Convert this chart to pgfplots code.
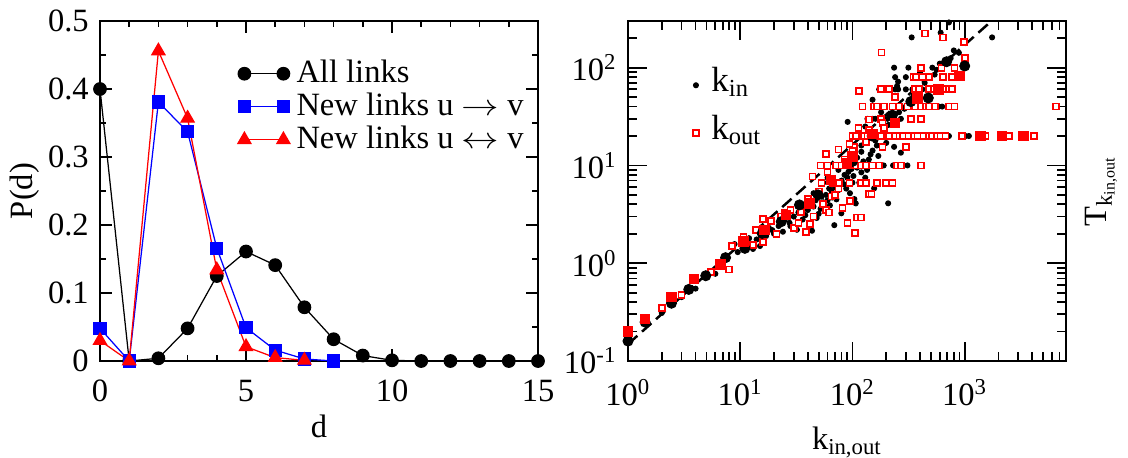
\documentclass[border=0pt]{standalone}
\usepackage{fontspec}
\setmainfont{Liberation Serif}
\usepackage{graphicx}
\usepackage{pgfplots}
\pgfplotsset{compat=1.18}

\definecolor{gblue}{RGB}{0,0,255}
\definecolor{gred}{RGB}{255,0,0}

\newcommand{\rarr}{\scalebox{1.25}[1]{$\rightarrow$}}
\newcommand{\lrarr}{\scalebox{1.25}[1]{$\leftrightarrow$}}

\pgfplotsset{
  grace/.style={
    scale only axis, width=175.2pt, height=136pt,
    axis line style={line width=0.7pt},
    tick style={line width=0.7pt, black},
    tick label style={font=\fontsize{13}{15}\selectfont},
    label style={font=\fontsize{13.5}{15}\selectfont},
    clip=false,
  },
}

\begin{document}
\fontsize{13}{15}\selectfont
\begin{tikzpicture}
\path[use as bounding box] (-40pt,-38.4pt) rectangle (411.2pt,144.4pt);

% left: distance distribution
\begin{axis}[grace,
  at={(0pt,0pt)}, anchor=south west,
  xmin=0, xmax=15, ymin=0, ymax=0.5,
  xtick={0,5,10,15}, xticklabels={0,5,10,15},
  ytick={0,0.1,0.2,0.3,0.4,0.5}, yticklabels={0,0.1,0.2,0.3,0.4,0.5},
  minor x tick num=4, minor y tick num=1,
  major tick length=4.8pt, minor tick length=2.4pt,
  xticklabel style={yshift=-3pt},
  xlabel={d}, ylabel={P(d)},
  every axis x label/.style={at={(axis description cs:0.5,-0.191)}, anchor=center},
  every axis y label/.style={at={(axis description cs:-0.171,0.5)}, anchor=center, rotate=90},
  legend style={at={(axis description cs:0.31,0.895)}, anchor=north west,
    draw=none, fill=none, inner sep=0pt, row sep=0pt,
    font=\fontsize{13}{15}\selectfont,
    nodes={inner sep=0.6pt, text height=9.5pt, text depth=2.5pt}},
  legend cell align=left,
  legend image code/.code={\path (-3pt,0pt) (20pt,0pt); \draw[#1] plot coordinates {(0pt,0pt) (15.6pt,0pt)};},
]
\addplot[black, line width=0.5pt, mark=*, mark size=2.5pt] coordinates {
 (0,0.40) (1,0) (2,0.004) (3,0.048) (4,0.125) (5,0.161) (6,0.141) (7,0.079)
 (8,0.032) (9,0.008) (10,0.001) (11,0) (12,0) (13,0) (14,0) (15,0)};
\addplot[gblue, line width=0.5pt, mark=square*, mark size=2.4pt] coordinates {
 (0,0.048) (1,0) (2,0.381) (3,0.337) (4,0.166) (5,0.049) (6,0.016) (7,0.003) (8,0)};
\addplot[gred, line width=0.5pt, mark=triangle*, mark size=3pt] coordinates {
 (0,0.030) (1,0) (2,0.456) (3,0.357) (4,0.134) (5,0.021) (6,0.005) (7,0.001)};
\legend{All links, New links u \rarr{} v, New links u \lrarr{} v}
\end{axis}

% right: T vs k
\begin{axis}[grace,
  at={(211.2pt,0pt)}, anchor=south west,
  xmode=log, ymode=log,
  xmin=1, xmax=8000, ymin=0.1, ymax=300,
  xtick={1,10,100,1000},
  xticklabels={10\textsuperscript{0},10\textsuperscript{1},10\textsuperscript{2},10\textsuperscript{3}},
  ytick={0.1,1,10,100},
  yticklabels={10\textsuperscript{-1},10\textsuperscript{0},10\textsuperscript{1},10\textsuperscript{2}},
  minor xtick={2,3,4,5,6,7,8,9,20,30,40,50,60,70,80,90,200,300,400,500,600,700,800,900,2000,3000,4000,5000,6000,7000,8000},
  minor ytick={0.2,0.3,0.4,0.5,0.6,0.7,0.8,0.9,2,3,4,5,6,7,8,9,20,30,40,50,60,70,80,90,200,300},
  major tick length=7.6pt, minor tick length=3.6pt,
  xticklabel style={yshift=-3pt},
  xlabel={k\textsubscript{in,out}}, ylabel={T\textsubscript{k\textsubscript{in,out}}},
  every axis x label/.style={at={(axis description cs:0.5,-0.16)}, anchor=north},
  every axis y label/.style={at={(axis description cs:1.08,0.5)}, anchor=center, rotate=90},
  legend style={at={(axis description cs:0.13,0.875)}, anchor=north west,
    draw=none, fill=none, inner sep=0pt, row sep=2pt,
    font=\fontsize{14}{15}\selectfont,
    nodes={inner sep=1pt, text height=10pt, text depth=5pt}},
  legend cell align=left,
  legend image code/.code={\path (-4pt,0pt) (5pt,0pt); \draw[#1] plot coordinates {(0pt,0pt)};},
]
\addplot[forget plot, black, line width=1pt, dash pattern=on 5pt off 2.5pt] coordinates {(1,0.149) (1735,300)};

% k_in, single nodes
\addplot[only marks, mark=*, mark size=1pt, black] coordinates {
 (1.5,0.24) (2,0.31) (3,0.45) (4,0.55) (6,0.78) (7,1.0) (8.9,1.57) (9.5,1.3) (11,1.42) (12,1.6)
 (13,1.4) (14,1.75) (17,1.9) (19.3,2.18) (22,2.4) (24,2.1) (27.5,2.59) (30,3.0) (32,2.2) (35,3.4)
 (38,3.1) (43.6,2.15) (45,3.8) (48,2.9) (52,3.6) (55,4.2) (60,4.4) (63,3.9) (65,5.5) (68.9,2.45)
 (72,4.5) (79.6,3.24) (85,6.4) (90,7.5) (95,5.2) (104,4.53) (107,4.09) (115,6.67) (120,8.5) (130,7.5)
 (156,5.83) (208,4.1) (100,6.67) (55,6.67) (70,6.67)
 (12,1.8) (15,1.5) (18,2.3) (20,2.0) (25,2.8) (28,2.4) (33,3.3) (36,2.8) (40,3.5) (42,4.0)
 (47,4.4) (50,3.2) (53,4.8) (58,5.0) (62,5.8) (66,4.7) (70,6.0) (75,5.6) (80,7.0) (88,5.8)
 (92,8.6) (98,9.2) (102,7.8) (110,9.5) (125,11) (135,9) (145,13) (165,16) (190,22) (210,26)
 (260,35) (290,38) (350,52) (380,55) (440,70) (540,85) (560,95) (600,110) (750,125) (800,150)
 (70,10) (100,10) (130,10) (160,10) (190,10) (230,10) (309,10) (280,10)
 (120,13.8) (151,14.2) (235,15.5) (270,13.5) (170,12.5) (110,12) (140,11.5)
 (115,20) (141,20) (173,20) (198,20) (235,20) (299,20) (342,20) (392,20) (480,20) (590,20) (724,20) (1018,20) (1090,20)
 (136,30) (151,30) (160,30) (180,30) (205,30) (227,30) (270,30)
 (180,40) (240,40) (270,40) (299,40) (342,40) (392,40) (480,40) (590,40) (630,40)
 (173,60) (240,60) (255,60) (299,60) (342,60) (420,60)
 (255,72) (299,80) (240,80)
 (235,100) (315,100) (515,100) (620,100)
 (151,47) (90.6,27.9) (200,17) (337,204) (611,228) (724,290) (1755,204) (888,142) (130,25) (180,35)
 (250,65) (400,90) (160,18) (95,12) (120,16) (75,9) (85,8) (60,7.5) (45,5.2) (40,4.6)};
\addlegendentry{k\textsubscript{in}}

% k_out, single nodes
\addplot[only marks, mark=square*, mark size=1.2pt, mark options={draw=gred, fill=white, line width=0.7pt}] coordinates {
 (2,0.35) (3,0.47) (5.5,0.82) (7.9,0.865) (8.5,1.5) (10.7,1.87) (12.9,1.53) (13.9,2.18) (15.9,2.81) (16,1.65)
 (18.9,2.72) (21,1.99) (23,3.0) (25,3.28) (28,3.5) (30,2.3) (33,2.56) (34.9,3.33) (38.6,2.07) (40,4.5)
 (42,2.54) (45,3.0) (50,5.4) (55,4.0) (58,3.5) (62,3.31) (65,4.8) (70,5.0) (75,5.8) (81.7,3.64)
 (90.5,2.56) (95,4.3) (105,2.05) (110,2.94) (119,2.94) (141,5.1) (148,5.1)
 (53,6.67) (67,6.67) (76,6.67) (94,6.67) (119,6.67) (132,6.67) (165,6.67) (198,6.67) (227,6.67)
 (52,10) (60,10) (71,10) (80,10) (87.5,10) (107,10) (119,10) (132,10) (151,10) (173,10) (251,10) (270,10) (406,10)
 (104,15.5) (132,17.5) (185,15.5) (299,15.5)
 (100,20) (107,20) (127,20) (136,20) (151,20) (165,20) (180,20) (202,20) (212,20) (240,20) (262,20) (280,20)
 (315,20) (355,20) (380,20) (430,20) (480,20) (515,20) (565,20) (610,20) (676,20) (950,20) (1532,20) (2468,20) (4117,20)
 (180,30) (330,30) (406,30) (140,29.5)
 (123,40) (156,40) (165,40) (190,40) (227,40) (260,40) (310,40) (360,40) (406,40) (450,40) (480,40) (540,40)
 (724,40) (810,40) (6546,40)
 (180,60) (202,60) (212,60) (360,60) (392,60) (480,60) (530,60) (590,60) (640,60) (724,60) (775,60)
 (350,80) (370,80) (420,80) (480,80) (640,80) (775,80)
 (406,100) (620,100) (810,100)
 (115,58) (240,50) (440,224) (640,204) (984,184) (181,143) (75,14.6) (94,16.6) (58,13.1) (44,7.7)
 (113,24.3) (185,27) (190,24) (1000,125) (140,23) (60,8.5) (85,11.5) (100,14)};
\addlegendentry{k\textsubscript{out}}

% binned averages
\addplot[forget plot, only marks, mark=*, mark size=2pt, black] coordinates {
 (1,0.16) (1.42,0.25) (2.44,0.39) (3.48,0.54) (4.93,0.745) (7.4,1.14) (11,1.42) (15.7,2.02)
 (23.2,2.66) (33.7,3.95) (49.3,5.0) (100,11) (150,20) (227,32.7) (331,45) (474,49) (690,115) (1000,104)};
\addplot[forget plot, only marks, mark=square*, mark size=1.9pt, gred] coordinates {
 (1,0.2) (1.42,0.27) (2.44,0.45) (3.86,0.69) (6.65,0.975) (10.7,1.66) (16.5,2.18) (25.6,3.11)
 (41.3,4.1) (64.4,7.1) (89.5,10.5) (100,12.3) (151,21) (240,27.3) (379,48.5) (582,60) (900,82)
 (1380,20) (2155,20) (3356,20)};
\end{axis}
\end{tikzpicture}
\end{document}
